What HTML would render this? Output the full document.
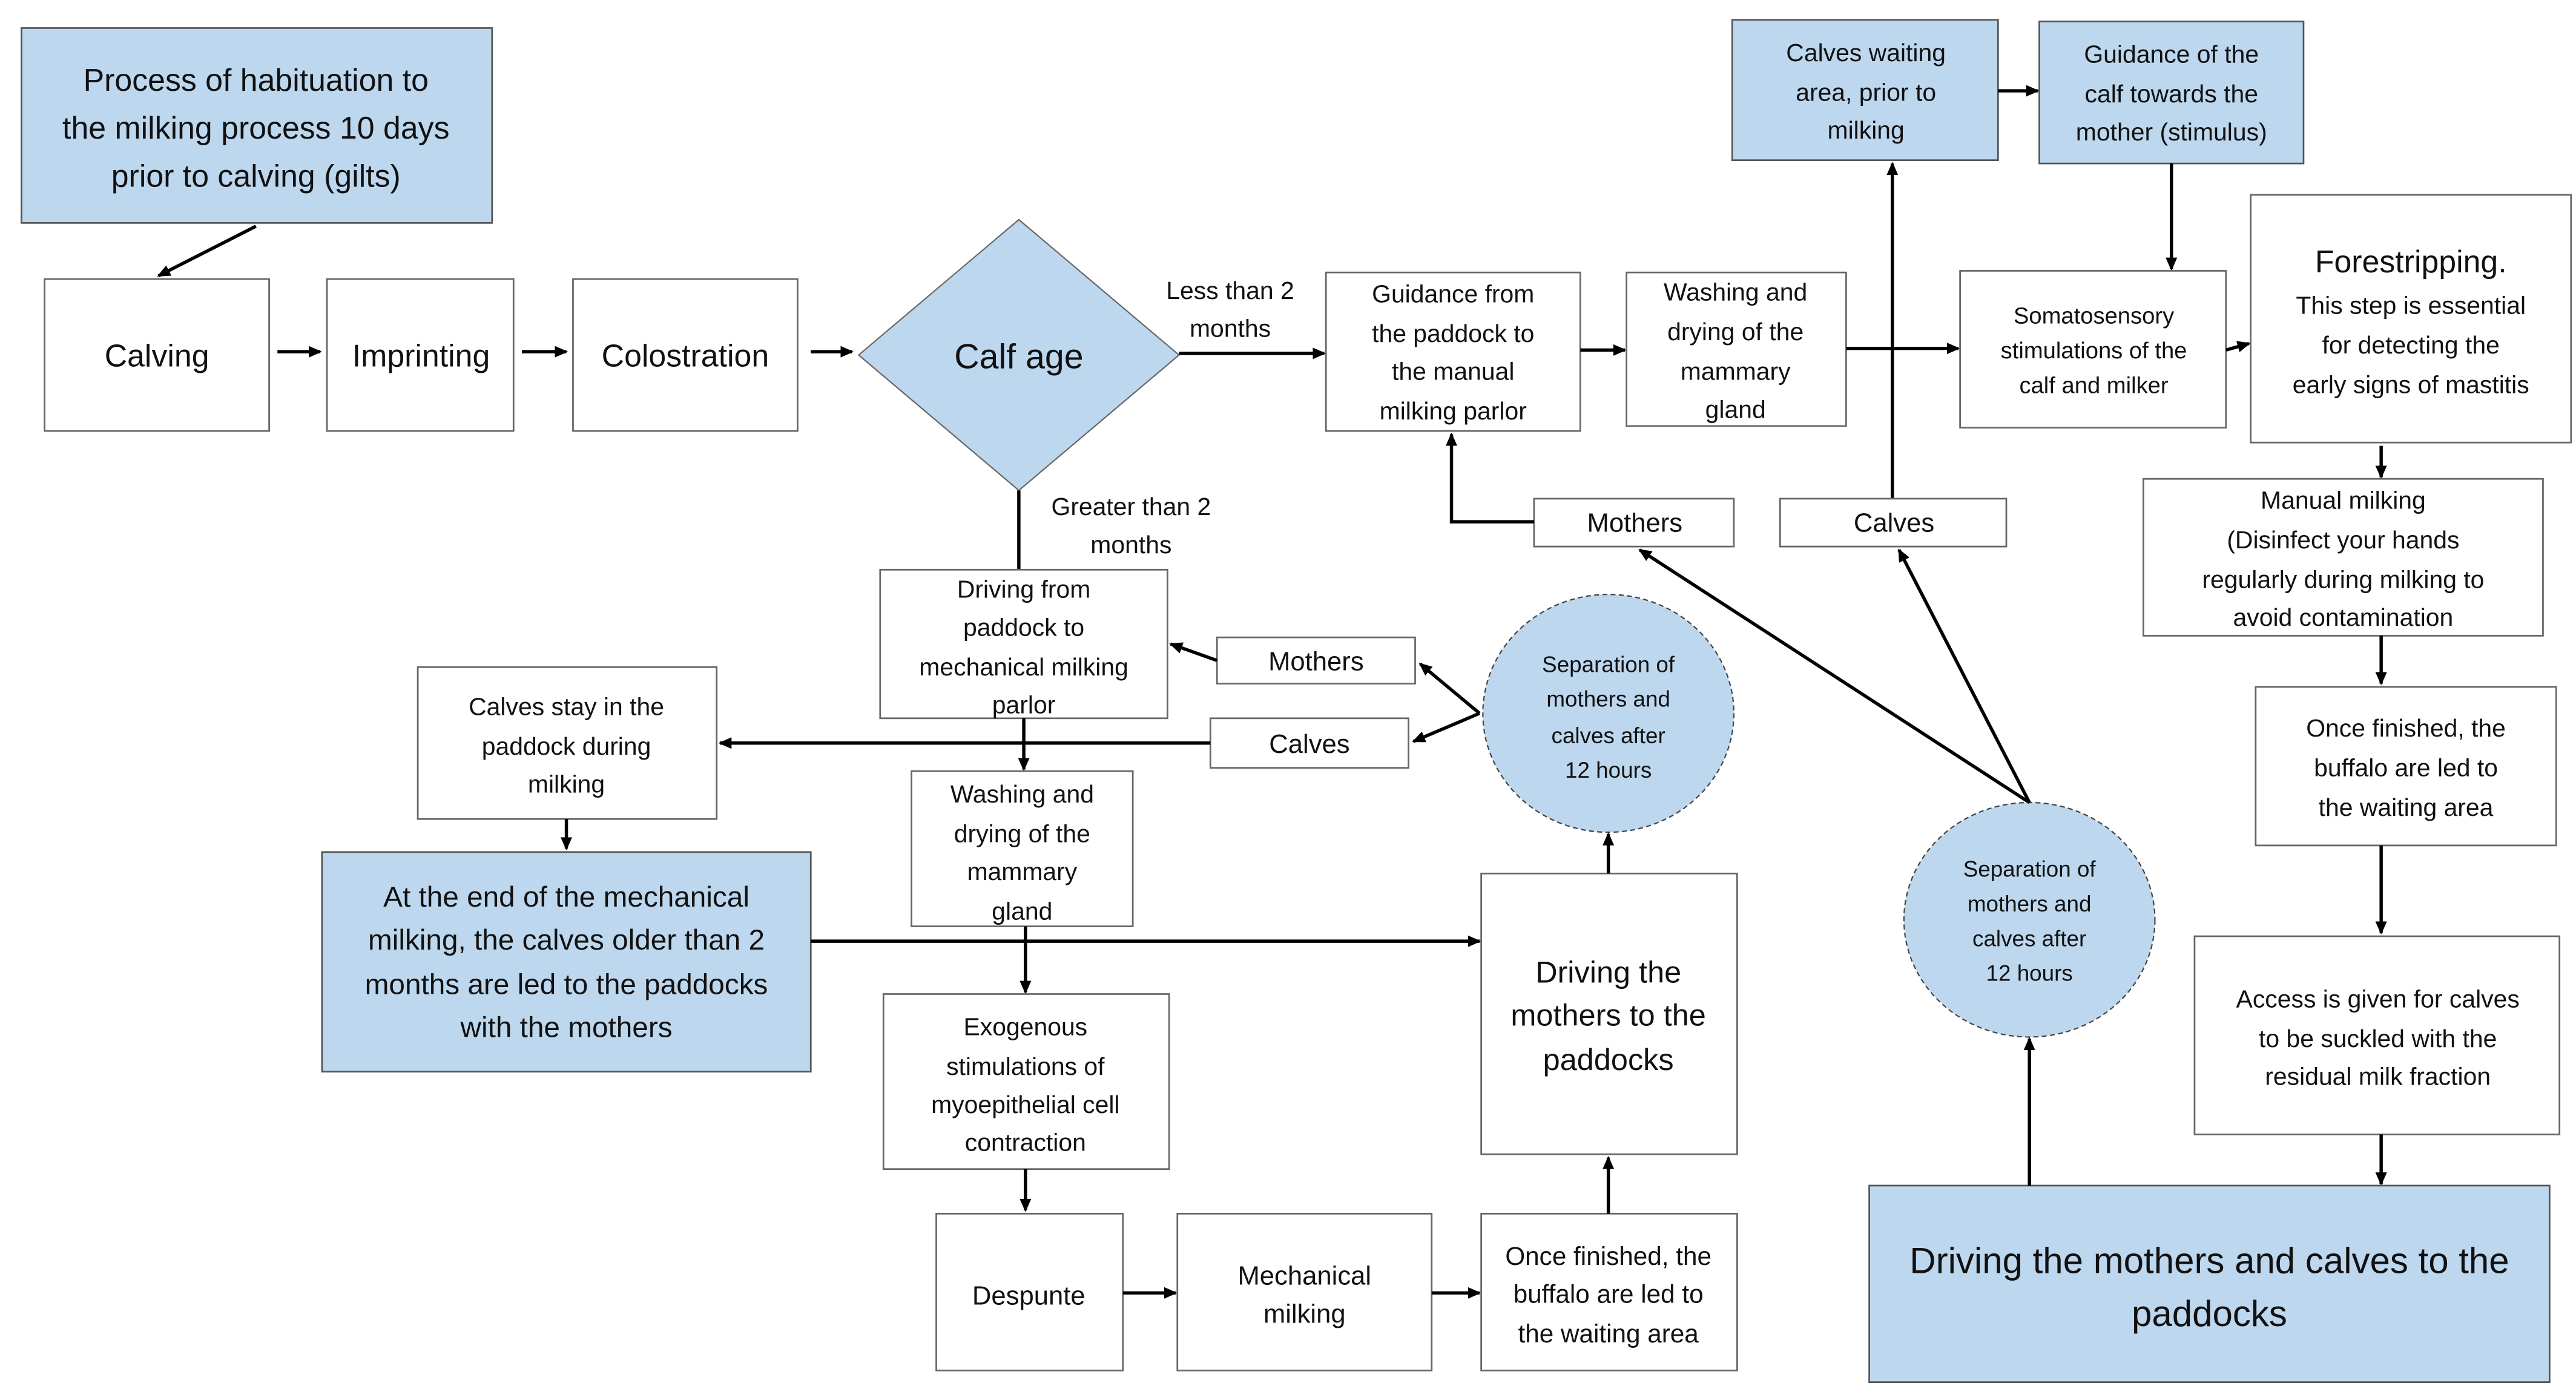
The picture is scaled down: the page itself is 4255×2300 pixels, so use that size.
<!DOCTYPE html>
<html><head><meta charset="utf-8">
<style>
html,body{margin:0;padding:0;background:#fff;}
svg{display:block;}
text{font-family:"Liberation Sans",sans-serif;fill:#111;text-anchor:middle;}
.b{fill:#fff;stroke:#666;stroke-width:1;}
.bl{fill:#bdd7ee;stroke:#555;stroke-width:1;}
.c{fill:#bdd7ee;stroke:#444;stroke-width:0.8;stroke-dasharray:3 2;}
.l{stroke:#000;stroke-width:2;fill:none;}
</style></head>
<body>
<svg width="4255" height="2300" viewBox="0 0 1560 843" preserveAspectRatio="none" xmlns="http://www.w3.org/2000/svg">
<defs>
<marker id="a" markerWidth="8" markerHeight="8" refX="7" refY="4" orient="auto" markerUnits="userSpaceOnUse">
<path d="M0,0.5 L8,4 L0,7.5 z" fill="#000"/></marker>
</defs>

<!-- top left -->
<rect class="bl" x="13" y="17" width="285" height="118"/>
<text font-size="19"><tspan x="155" y="55">Process of habituation to</tspan><tspan x="155" y="84">the milking process 10 days</tspan><tspan x="155" y="113">prior to calving (gilts)</tspan></text>
<line class="l" x1="155" y1="137" x2="96" y2="167" marker-end="url(#a)"/>

<rect class="b" x="27" y="169" width="136" height="92"/>
<text font-size="19" x="95" y="222">Calving</text>
<rect class="b" x="198" y="169" width="113" height="92"/>
<text font-size="19" x="255" y="222">Imprinting</text>
<rect class="b" x="347" y="169" width="136" height="92"/>
<text font-size="19" x="415" y="222">Colostration</text>
<line class="l" x1="168" y1="213" x2="194" y2="213" marker-end="url(#a)"/>
<line class="l" x1="316" y1="213" x2="343" y2="213" marker-end="url(#a)"/>
<line class="l" x1="491" y1="213" x2="516" y2="213" marker-end="url(#a)"/>

<polygon points="617,133 714,215 617,297 520,215" fill="#bdd7ee" stroke="#666" stroke-width="0.8"/>
<text font-size="21" x="617" y="223">Calf age</text>
<text font-size="15"><tspan x="745" y="181">Less than 2</tspan><tspan x="745" y="204">months</tspan></text>
<line class="l" x1="714" y1="214" x2="802" y2="214" marker-end="url(#a)"/>
<text font-size="15"><tspan x="685" y="312">Greater than 2</tspan><tspan x="685" y="335">months</tspan></text>
<line class="l" x1="617" y1="297" x2="617" y2="345"/>

<!-- upper manual branch -->
<rect class="b" x="803" y="165" width="154" height="96"/>
<text font-size="15"><tspan x="880" y="183">Guidance from</tspan><tspan x="880" y="207">the paddock to</tspan><tspan x="880" y="230">the manual</tspan><tspan x="880" y="254">milking parlor</tspan></text>
<line class="l" x1="957" y1="212" x2="984" y2="212" marker-end="url(#a)"/>
<rect class="b" x="985" y="165" width="133" height="93"/>
<text font-size="15"><tspan x="1051" y="182">Washing and</tspan><tspan x="1051" y="206">drying of the</tspan><tspan x="1051" y="230">mammary</tspan><tspan x="1051" y="253">gland</tspan></text>
<line class="l" x1="1118" y1="211" x2="1186" y2="211" marker-end="url(#a)"/>

<rect class="bl" x="1049" y="12" width="161" height="85"/>
<text font-size="15"><tspan x="1130" y="37">Calves waiting</tspan><tspan x="1130" y="61">area, prior to</tspan><tspan x="1130" y="84">milking</tspan></text>
<rect class="bl" x="1235" y="13" width="160" height="86"/>
<text font-size="15"><tspan x="1315" y="38">Guidance of the</tspan><tspan x="1315" y="62">calf towards the</tspan><tspan x="1315" y="85">mother (stimulus)</tspan></text>
<line class="l" x1="1210" y1="55" x2="1234" y2="55" marker-end="url(#a)"/>
<line class="l" x1="1146" y1="302" x2="1146" y2="99" marker-end="url(#a)"/>
<line class="l" x1="1315" y1="99" x2="1315" y2="163" marker-end="url(#a)"/>

<rect class="b" x="1187" y="164" width="161" height="95"/>
<text font-size="14"><tspan x="1268" y="196">Somatosensory</tspan><tspan x="1268" y="217">stimulations of the</tspan><tspan x="1268" y="238">calf and milker</tspan></text>
<line class="l" x1="1348" y1="212" x2="1362" y2="208" marker-end="url(#a)"/>

<rect class="b" x="1363" y="118" width="194" height="150"/>
<text font-size="19" x="1460" y="165">Forestripping.</text>
<text font-size="15"><tspan x="1460" y="190">This step is essential</tspan><tspan x="1460" y="214">for detecting the</tspan><tspan x="1460" y="238">early signs of mastitis</tspan></text>
<line class="l" x1="1442" y1="270" x2="1442" y2="289" marker-end="url(#a)"/>

<rect class="b" x="1298" y="290" width="242" height="95"/>
<text font-size="15"><tspan x="1419" y="308">Manual milking</tspan><tspan x="1419" y="332">(Disinfect your hands</tspan><tspan x="1419" y="356">regularly during milking to</tspan><tspan x="1419" y="379">avoid contamination</tspan></text>
<line class="l" x1="1442" y1="385" x2="1442" y2="414" marker-end="url(#a)"/>

<rect class="b" x="1366" y="416" width="182" height="96"/>
<text font-size="15"><tspan x="1457" y="446">Once finished, the</tspan><tspan x="1457" y="470">buffalo are led to</tspan><tspan x="1457" y="494">the waiting area</tspan></text>
<line class="l" x1="1442" y1="512" x2="1442" y2="565" marker-end="url(#a)"/>

<rect class="b" x="1329" y="567" width="221" height="120"/>
<text font-size="15"><tspan x="1440" y="610">Access is given for calves</tspan><tspan x="1440" y="634">to be suckled with the</tspan><tspan x="1440" y="657">residual milk fraction</tspan></text>
<line class="l" x1="1442" y1="687" x2="1442" y2="717" marker-end="url(#a)"/>

<rect class="bl" x="1132" y="718" width="412" height="119"/>
<text font-size="22"><tspan x="1338" y="771">Driving the mothers and calves to the</tspan><tspan x="1338" y="803">paddocks</tspan></text>
<line class="l" x1="1229" y1="718" x2="1229" y2="629" marker-end="url(#a)"/>

<ellipse class="c" cx="1229" cy="557" rx="76" ry="71"/>
<text font-size="13.5"><tspan x="1229" y="531">Separation of</tspan><tspan x="1229" y="552">mothers and</tspan><tspan x="1229" y="573">calves after</tspan><tspan x="1229" y="594">12 hours</tspan></text>
<line class="l" x1="1229" y1="486" x2="993" y2="333" marker-end="url(#a)"/>
<line class="l" x1="1229" y1="486" x2="1150" y2="333" marker-end="url(#a)"/>

<rect class="b" x="929" y="302" width="121" height="29"/>
<text font-size="16" x="990" y="322">Mothers</text>
<rect class="b" x="1078" y="302" width="137" height="29"/>
<text font-size="16" x="1147" y="322">Calves</text>
<polyline class="l" points="929,316 879,316 879,263" marker-end="url(#a)"/>

<!-- mechanical branch -->
<rect class="b" x="533" y="345" width="174" height="90"/>
<text font-size="15"><tspan x="620" y="362">Driving from</tspan><tspan x="620" y="385">paddock to</tspan><tspan x="620" y="409">mechanical milking</tspan><tspan x="620" y="432">parlor</tspan></text>

<rect class="b" x="737" y="386" width="120" height="28"/>
<text font-size="16" x="797" y="406">Mothers</text>
<rect class="b" x="733" y="435" width="120" height="30"/>
<text font-size="16" x="793" y="456">Calves</text>
<line class="l" x1="737" y1="400" x2="709" y2="390" marker-end="url(#a)"/>

<ellipse class="c" cx="974" cy="432" rx="76" ry="72"/>
<text font-size="13.5"><tspan x="974" y="407">Separation of</tspan><tspan x="974" y="428">mothers and</tspan><tspan x="974" y="450">calves after</tspan><tspan x="974" y="471">12 hours</tspan></text>
<line class="l" x1="896" y1="432" x2="860" y2="402" marker-end="url(#a)"/>
<line class="l" x1="896" y1="432" x2="856" y2="449" marker-end="url(#a)"/>

<line class="l" x1="733" y1="450" x2="436" y2="450" marker-end="url(#a)"/>
<rect class="b" x="253" y="404" width="181" height="92"/>
<text font-size="15"><tspan x="343" y="433">Calves stay in the</tspan><tspan x="343" y="457">paddock during</tspan><tspan x="343" y="480">milking</tspan></text>
<line class="l" x1="343" y1="496" x2="343" y2="514" marker-end="url(#a)"/>

<rect class="bl" x="195" y="516" width="296" height="133"/>
<text font-size="17.5"><tspan x="343" y="549">At the end of the mechanical</tspan><tspan x="343" y="575">milking, the calves older than 2</tspan><tspan x="343" y="602">months are led to the paddocks</tspan><tspan x="343" y="628">with the mothers</tspan></text>
<line class="l" x1="491" y1="570" x2="896" y2="570" marker-end="url(#a)"/>

<line class="l" x1="620" y1="435" x2="620" y2="466" marker-end="url(#a)"/>
<rect class="b" x="552" y="467" width="134" height="94"/>
<text font-size="15"><tspan x="619" y="486">Washing and</tspan><tspan x="619" y="510">drying of the</tspan><tspan x="619" y="533">mammary</tspan><tspan x="619" y="557">gland</tspan></text>
<line class="l" x1="621" y1="561" x2="621" y2="601" marker-end="url(#a)"/>

<rect class="b" x="535" y="602" width="173" height="106"/>
<text font-size="15"><tspan x="621" y="627">Exogenous</tspan><tspan x="621" y="651">stimulations of</tspan><tspan x="621" y="674">myoepithelial cell</tspan><tspan x="621" y="697">contraction</tspan></text>
<line class="l" x1="621" y1="708" x2="621" y2="733" marker-end="url(#a)"/>

<rect class="b" x="567" y="735" width="113" height="95"/>
<text font-size="16" x="623" y="790">Despunte</text>
<line class="l" x1="680" y1="783" x2="712" y2="783" marker-end="url(#a)"/>
<rect class="b" x="713" y="735" width="154" height="95"/>
<text font-size="16"><tspan x="790" y="778">Mechanical</tspan><tspan x="790" y="801">milking</tspan></text>
<line class="l" x1="867" y1="783" x2="896" y2="783" marker-end="url(#a)"/>
<rect class="b" x="897" y="735" width="155" height="95"/>
<text font-size="15.5"><tspan x="974" y="766">Once finished, the</tspan><tspan x="974" y="789">buffalo are led to</tspan><tspan x="974" y="813">the waiting area</tspan></text>
<line class="l" x1="974" y1="735" x2="974" y2="701" marker-end="url(#a)"/>

<rect class="b" x="897" y="529" width="155" height="170"/>
<text font-size="18.5"><tspan x="974" y="595">Driving the</tspan><tspan x="974" y="621">mothers to the</tspan><tspan x="974" y="648">paddocks</tspan></text>
<line class="l" x1="974" y1="529" x2="974" y2="505" marker-end="url(#a)"/>
</svg>
</body></html>
